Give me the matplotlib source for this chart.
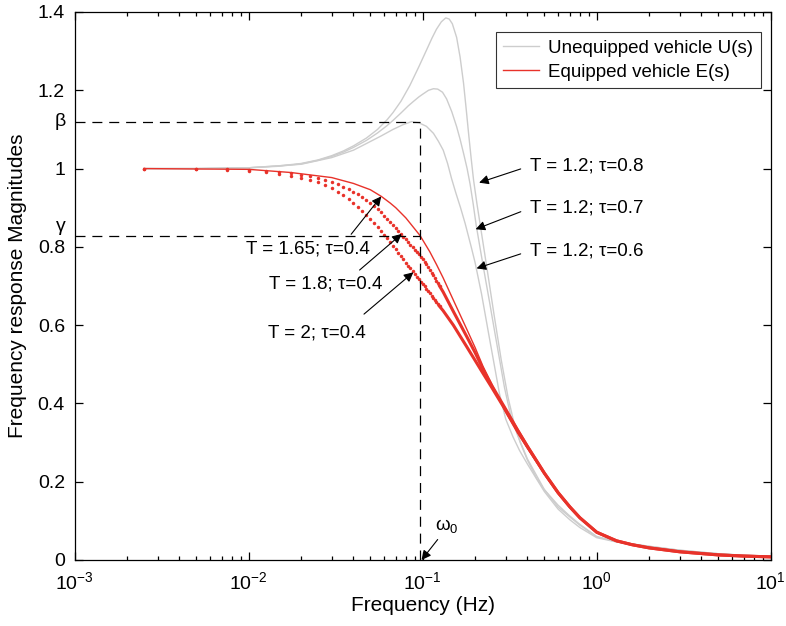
import numpy as np
import matplotlib
matplotlib.use("Agg")
import matplotlib.pyplot as plt
from matplotlib.ticker import LogLocator, NullFormatter

plt.rcParams['font.family'] = ['Liberation Sans', 'DejaVu Sans']
plt.rcParams['mathtext.fontset'] = 'custom'
plt.rcParams['mathtext.rm'] = 'Liberation Sans'
plt.rcParams['mathtext.it'] = 'Liberation Sans'

# ---- Unequipped vehicle U(s), T = 1.2 ----
freq_u08 = [0.0025, 0.005, 0.01, 0.015, 0.02, 0.025, 0.03, 0.035, 0.04, 0.0475, 0.055, 0.0625,
            0.0675, 0.075, 0.0843, 0.095, 0.105, 0.113, 0.12, 0.128, 0.1357, 0.142, 0.148,
            0.1567, 0.164, 0.1717, 0.178, 0.1835, 0.19, 0.196, 0.205, 0.2138, 0.235, 0.2574,
            0.283, 0.3095, 0.335, 0.3635, 0.4, 0.45, 0.497, 0.6, 0.69, 0.8, 1.0, 1.3, 1.6,
            2.0, 3.0, 5.0, 7.0, 10.0]
mag_u08 = [1.0, 1.0, 1.002, 1.007, 1.013, 1.022, 1.033, 1.045, 1.058, 1.078, 1.1, 1.125,
           1.143, 1.172, 1.212, 1.26, 1.302, 1.333, 1.356, 1.375, 1.385, 1.382, 1.37,
           1.335, 1.285, 1.218, 1.15, 1.09, 1.025, 0.971, 0.91, 0.858, 0.74, 0.625,
           0.51, 0.415, 0.35, 0.3, 0.255, 0.21, 0.181, 0.14, 0.115, 0.091, 0.06, 0.047, 0.041,
           0.035, 0.025, 0.016, 0.012, 0.010]

freq_u07 = [0.0025, 0.005, 0.01, 0.015, 0.02, 0.025, 0.03, 0.035, 0.04, 0.0475, 0.055, 0.0625,
            0.0675, 0.075, 0.0825, 0.0887, 0.095, 0.1, 0.108, 0.1153, 0.122, 0.13, 0.1372,
            0.147, 0.1567, 0.164, 0.1717, 0.18, 0.1873, 0.195, 0.203, 0.215, 0.23, 0.242,
            0.26, 0.2953, 0.32, 0.35, 0.4, 0.5, 0.6, 0.7, 0.8, 1.0, 1.3, 1.6, 2.0, 3.0, 5.0,
            7.0, 10.0]
mag_u07 = [1.0, 1.0, 1.002, 1.006, 1.012, 1.021, 1.031, 1.042, 1.054, 1.072, 1.091, 1.11,
           1.123, 1.142, 1.16, 1.172, 1.183, 1.19, 1.2, 1.204, 1.203, 1.195, 1.178,
           1.145, 1.107, 1.075, 1.039, 1.0, 0.96, 0.91, 0.855, 0.79, 0.715, 0.66,
           0.58, 0.44, 0.37, 0.32, 0.258, 0.18, 0.135, 0.11, 0.089, 0.059, 0.047, 0.041, 0.035, 0.025, 0.016,
           0.012, 0.0098]

freq_u06 = [0.0025, 0.005, 0.01, 0.02, 0.03, 0.04, 0.0475, 0.0575, 0.0675, 0.077, 0.0863,
            0.095, 0.105, 0.1153, 0.123, 0.1312, 0.139, 0.1464, 0.155, 0.165, 0.1753, 0.19,
            0.2, 0.2178, 0.24, 0.2762, 0.3, 0.33, 0.36, 0.4, 0.5, 0.6, 0.7, 0.8, 1.0, 1.3,
            1.6, 2.0, 3.0, 5.0, 7.0, 10.0]
mag_u06 = [1.0, 1.0, 1.002, 1.011, 1.028, 1.047, 1.064, 1.083, 1.1, 1.112, 1.12,
           1.117, 1.108, 1.09, 1.07, 1.047, 1.013, 0.975, 0.938, 0.9, 0.86, 0.8,
           0.76, 0.68, 0.575, 0.425, 0.36, 0.315, 0.28, 0.245, 0.175, 0.13, 0.103, 0.083, 0.057, 0.046,
           0.04, 0.034, 0.024, 0.016, 0.012, 0.0095]

# ---- Equipped vehicle E(s), tau = 0.4 ----
freq_e165 = [0.0025, 0.01, 0.0174, 0.03, 0.04, 0.05, 0.0578, 0.065, 0.07, 0.08, 0.0965, 0.11,
             0.12, 0.131, 0.15, 0.179, 0.2, 0.222, 0.25, 0.276, 0.3, 0.35, 0.4, 0.5, 0.6, 0.7,
             0.8, 1.0, 1.3, 1.6, 2.0, 3.0, 5.0, 7.0, 10.0]
mag_e165 = [1.0, 0.998, 0.99, 0.977, 0.962, 0.946, 0.929, 0.912, 0.9, 0.874, 0.829, 0.787,
            0.755, 0.721, 0.664, 0.59, 0.543, 0.495, 0.448, 0.41, 0.377, 0.325, 0.285, 0.22, 0.17,
            0.135, 0.108, 0.07, 0.048, 0.038, 0.031, 0.021, 0.013, 0.010, 0.008]

# sampled points (0.0025 Hz apart) of the T = 1.8 and T = 2 responses
freq_dots = [0.0025, 0.005, 0.0075, 0.01, 0.0125, 0.015, 0.0175, 0.02, 0.0225, 0.025,
             0.0275, 0.03, 0.0325, 0.035, 0.0375, 0.04, 0.0425, 0.045, 0.0475, 0.05,
             0.0525, 0.055, 0.0575, 0.06, 0.0625, 0.065, 0.0675, 0.07, 0.0725, 0.075,
             0.0775, 0.08, 0.0825, 0.085, 0.0875, 0.09, 0.0925, 0.095, 0.0975, 0.1,
             0.1025, 0.105, 0.1075, 0.11, 0.1125, 0.115, 0.1175, 0.12, 0.1225, 0.125]
mag_e18_dots = [1.0, 0.999, 0.998, 0.996, 0.994, 0.991, 0.988, 0.984, 0.980, 0.975,
                0.970, 0.965, 0.960, 0.954, 0.948, 0.941, 0.934, 0.927, 0.920, 0.912,
                0.904, 0.896, 0.888, 0.880, 0.872, 0.864, 0.856, 0.848, 0.840, 0.833,
                0.826, 0.819, 0.812, 0.805, 0.799, 0.793, 0.787, 0.781, 0.775, 0.769,
                0.762, 0.755, 0.748, 0.741, 0.734, 0.727, 0.720, 0.714, 0.707, 0.700]
mag_e2_dots = [1.0, 0.999, 0.997, 0.994, 0.991, 0.987, 0.982, 0.977, 0.971, 0.965,
               0.958, 0.950, 0.941, 0.932, 0.922, 0.912, 0.902, 0.892, 0.881, 0.871,
               0.861, 0.851, 0.841, 0.831, 0.822, 0.812, 0.803, 0.794, 0.785, 0.776,
               0.768, 0.760, 0.752, 0.745, 0.738, 0.731, 0.724, 0.717, 0.711, 0.705,
               0.699, 0.693, 0.687, 0.681, 0.675, 0.669, 0.664, 0.658, 0.653, 0.648]

freq_e_tail = [0.125, 0.131, 0.15, 0.179, 0.2, 0.222, 0.25, 0.3, 0.35, 0.4, 0.5, 0.6,
               0.7, 0.8, 1.0, 1.3, 1.6, 2.0, 3.0, 5.0, 7.0, 10.0]
mag_e18_tail = [0.700, 0.685, 0.635, 0.571, 0.53, 0.488, 0.445, 0.385, 0.333, 0.29, 0.222,
                0.172, 0.136, 0.108, 0.071, 0.049, 0.039, 0.031, 0.021, 0.013, 0.010, 0.008]
mag_e2_tail = [0.648, 0.637, 0.60, 0.545, 0.51, 0.477, 0.44, 0.382, 0.332, 0.29, 0.222,
               0.172, 0.136, 0.108, 0.071, 0.049, 0.039, 0.031, 0.021, 0.013, 0.010, 0.008]

beta_level = 1.12
gamma_level = 0.829
omega0 = 0.0965

y_ticks = [0, 0.2, 0.4, 0.6, 0.8, 1.0, 1.2, 1.4]
y_tick_labels = ['0', '0.2', '0.4', '0.6', '0.8', '1', '1.2', '1.4']
x_ticks = [1e-3, 1e-2, 1e-1, 1e0, 1e1]
x_tick_labels = [r'$10^{-3}$', r'$10^{-2}$', r'$10^{-1}$', r'$10^{0}$', r'$10^{1}$']

GRAY = '#cdcdcd'
RED = '#e8322a'

fig = plt.figure(figsize=(7.86, 6.26), dpi=100)
ax = fig.add_axes([74.7 / 786, (626 - 560) / 626, (770.7 - 74.7) / 786, (560 - 12) / 626])

ax.plot(freq_u08, mag_u08, color=GRAY, lw=1.0, label='Unequipped vehicle U(s)')
ax.plot(freq_u07, mag_u07, color=GRAY, lw=1.0)
ax.plot(freq_u06, mag_u06, color=GRAY, lw=1.0)

ax.plot(freq_e165, mag_e165, color=RED, lw=1.0, label='Equipped vehicle E(s)')
ax.plot(freq_dots, mag_e18_dots, ls='none', marker='o', ms=2.5, mec='none', color=RED)
ax.plot(freq_dots, mag_e2_dots, ls='none', marker='o', ms=2.5, mec='none', color=RED)
ax.plot(freq_e_tail, mag_e18_tail, color=RED, lw=2.2)
ax.plot(freq_e_tail, mag_e2_tail, color=RED, lw=2.2)

# reference levels beta, gamma and frequency omega_0
dash = (0, (8, 5.5))
ax.plot([1e-3, omega0], [beta_level, beta_level], color='black', lw=0.9, ls=dash)
ax.plot([1e-3, omega0], [gamma_level, gamma_level], color='black', lw=0.9, ls=dash)
ax.plot([omega0, omega0], [0, beta_level], color='black', lw=0.9, ls=dash)

ax.set_xscale('log')
ax.set_xlim(1e-3, 10)
ax.set_ylim(0, 1.4)
ax.set_xticks(x_ticks)
ax.set_xticklabels(x_tick_labels)
ax.xaxis.set_minor_locator(LogLocator(base=10, subs=np.arange(2, 10), numticks=20))
ax.xaxis.set_minor_formatter(NullFormatter())
ax.set_yticks(y_ticks)
ax.set_yticklabels(y_tick_labels)
ax.tick_params(which='both', direction='in', top=True, right=True, labelsize=14, width=0.9)
ax.tick_params(which='major', length=6)
ax.tick_params(axis='y', which='major', pad=7)
ax.tick_params(axis='x', which='major', pad=8)
ax.tick_params(which='minor', length=3)
for sp in ax.spines.values():
    sp.set_linewidth(0.9)

ax.set_xlabel('Frequency (Hz)', fontsize=15, labelpad=2)
ax.set_ylabel('Frequency response Magnitudes', fontsize=15, labelpad=8)

# Greek level labels on the y axis
ax.text(-0.012, beta_level, r'$\beta$', transform=ax.get_yaxis_transform(), ha='right', va='center', fontsize=14)
ax.text(-0.012, gamma_level + 0.02, r'$\gamma$', transform=ax.get_yaxis_transform(), ha='right', va='center', fontsize=14)

fs = 13.5

def arrow(relpos, shrink_a=2):
    return dict(arrowstyle='-|>', color='black', lw=0.8, mutation_scale=14,
                shrinkA=shrink_a, shrinkB=0, relpos=relpos)

# labels for the unequipped responses
ax.annotate('T = 1.2; \u03c4=0.8', xy=(0.211, 0.964), xytext=(0.414, 1.007), fontsize=fs,
            va='center', arrowprops=arrow((0, 0.5), 5))
ax.annotate('T = 1.2; \u03c4=0.7', xy=(0.2015, 0.845), xytext=(0.414, 0.899), fontsize=fs,
            va='center', arrowprops=arrow((0, 0.5), 5))
ax.annotate('T = 1.2; \u03c4=0.6', xy=(0.204, 0.745), xytext=(0.414, 0.79), fontsize=fs,
            va='center', arrowprops=arrow((0, 0.5), 5))

# labels for the equipped responses
ax.annotate('T = 1.65; \u03c4=0.4', xy=(0.0578, 0.929), xytext=(0.0219, 0.795), fontsize=fs,
            ha='center', va='center', arrowprops=arrow((0.81, 1.0), 3))
ax.annotate('T = 1.8; \u03c4=0.4', xy=(0.0757, 0.833), xytext=(0.0278, 0.705), fontsize=fs,
            ha='center', va='center', arrowprops=arrow((0.74, 1.0), 3))
ax.annotate('T = 2; \u03c4=0.4', xy=(0.0884, 0.735), xytext=(0.0247, 0.581), fontsize=fs,
            ha='center', va='center', arrowprops=arrow((0.86, 1.0), 8))

ax.annotate(r'$\omega_0$', xy=(0.0985, 0.0), xytext=(0.117, 0.088), fontsize=fs,
            ha='left', va='center', arrowprops=arrow((0.3, 0.0), 2))

leg = ax.legend(loc='upper right', bbox_to_anchor=(0.986, 0.963), borderaxespad=0,
                fontsize=13.5, frameon=True, fancybox=False, edgecolor='black',
                handlelength=1.9, borderpad=0.4, labelspacing=0.35, handletextpad=0.5)
leg.get_frame().set_linewidth(0.8)

fig.savefig('out.png', dpi=100)
